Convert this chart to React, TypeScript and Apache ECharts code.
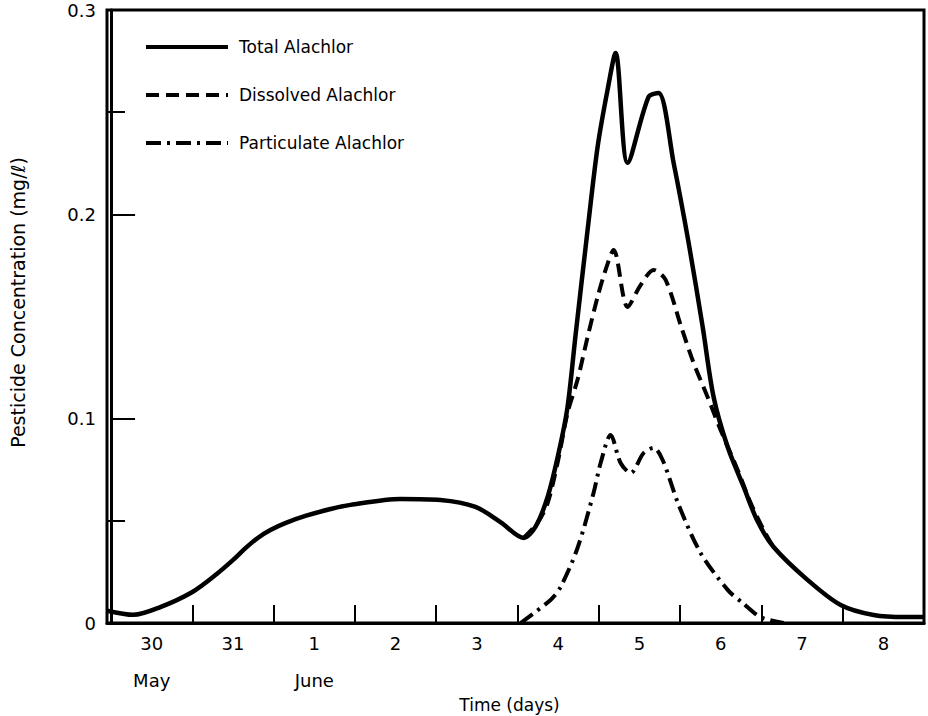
import { useEffect, useRef } from "react";
import * as echarts from "echarts";

const FONT = '"DejaVu Sans", "Liberation Sans", sans-serif';

// x is measured in days: 0 = midnight starting 30 May, tick marks at each midnight
const dayTicks = [1, 2, 3, 4, 5, 6, 7, 8, 9];
const dayLabelPositions = [0.5, 1.5, 2.5, 3.5, 4.5, 5.5, 6.5, 7.5, 8.5, 9.5];
const dayLabels = ["30", "31", "1", "2", "3", "4", "5", "6", "7", "8"];
const monthLabels = ["May", "", "June", "", "", "", "", "", "", ""];

// concentration axis (mg/ℓ)
const yLabelValues = [0, 0.1, 0.2, 0.3];
const yMajorTicks = [0.1, 0.2];
const yMinorTicks = [0.05, 0.25];

// [day, mg/ℓ]
const totalAlachlor: [number, number][] = [
  [-0.05, 0.006], [0.274, 0.004], [0.606, 0.0078], [1.0, 0.0152], [1.3, 0.024],
  [1.505, 0.031], [1.65, 0.0365], [1.8, 0.0415], [1.96, 0.0455], [2.15, 0.049],
  [2.4, 0.0525], [2.7, 0.0558], [2.945, 0.0578], [3.56, 0.0607], [4.052, 0.0602],
  [4.483, 0.0568], [4.79, 0.0494], [5.074, 0.0416], [5.22, 0.047], [5.37, 0.0617],
  [5.505, 0.0832], [5.615, 0.1057], [5.714, 0.141], [5.862, 0.1924], [5.985, 0.233],
  [6.108, 0.261], [6.206, 0.279], [6.354, 0.2252], [6.612, 0.2575], [6.735, 0.2594],
  [6.92, 0.2252], [7.105, 0.186], [7.277, 0.145], [7.412, 0.1106], [7.585, 0.0861],
  [7.782, 0.0666], [7.95, 0.05], [8.15, 0.0372], [8.57, 0.021], [8.975, 0.0088],
  [9.38, 0.0039], [9.775, 0.0029], [10.0, 0.0029],
];

const dissolvedAlachlor: [number, number][] = [
  [5.074, 0.0416], [5.246, 0.049], [5.37, 0.0587], [5.492, 0.0783], [5.615, 0.1028],
  [5.738, 0.119], [5.862, 0.14], [5.985, 0.1596], [6.083, 0.1728], [6.182, 0.1826],
  [6.354, 0.1547], [6.514, 0.1654], [6.674, 0.1728], [6.82, 0.168], [7.018, 0.1444],
  [7.166, 0.1273], [7.338, 0.1106], [7.498, 0.0945], [7.708, 0.0749], [7.868, 0.0587],
  [8.028, 0.0455], [8.138, 0.0377],
];

const particulateAlachlor: [number, number][] = [
  [5.037, 0], [5.406, 0.0113], [5.529, 0.0176], [5.738, 0.0367], [5.935, 0.0636],
  [6.022, 0.0783], [6.145, 0.092], [6.268, 0.0783], [6.391, 0.0734], [6.551, 0.0832],
  [6.674, 0.0857], [6.785, 0.0798], [6.982, 0.0578], [7.252, 0.0343], [7.585, 0.0162],
  [7.77, 0.0098], [7.99, 0.0029], [8.274, 0],
];

const INK = "#000";

export default function App() {
  const ref = useRef<HTMLDivElement>(null);

  useEffect(() => {
    if (!ref.current) return;
    const chart = echarts.init(ref.current, null, { renderer: "svg" });

    const lineSeries = (name: string, data: [number, number][], type: any, width: number) => ({
      name,
      type: "line",
      data,
      symbol: "none",
      smooth: 0.3,
      lineStyle: { color: INK, width, type, cap: "butt", join: "round" },
      itemStyle: { color: INK },
      z: 3,
    });

    chart.setOption({
      animation: false,
      backgroundColor: "#fff",
      textStyle: { fontFamily: FONT, color: INK },
      grid: {
        left: 107,
        right: 4,
        top: 10,
        bottom: 93,
        containLabel: false,
        outerBoundsMode: "none",
        show: true,
        borderColor: INK,
        borderWidth: 3,
        backgroundColor: "transparent",
      },
      legend: {
        orient: "vertical",
        left: 144,
        top: 38,
        padding: 0,
        itemWidth: 82,
        itemHeight: 18,
        itemGap: 30,
        data: ["Total Alachlor", "Dissolved Alachlor", "Particulate Alachlor"],
        itemStyle: { opacity: 0 },
        lineStyle: { width: 4, color: INK },
        textStyle: {
          fontFamily: FONT,
          fontSize: 17,
          lineHeight: 18,
          color: INK,
          padding: [0, 0, 0, 6],
        },
        selectedMode: false,
      },
      xAxis: {
        type: "value",
        min: -0.05,
        max: 10,
        name: "Time (days)",
        nameLocation: "middle",
        nameGap: 73,
        nameMoveOverlap: false,
        nameTextStyle: { fontFamily: FONT, fontSize: 17, color: INK, padding: [0, 12, 0, 0] },
        axisLine: { show: true, lineStyle: { color: INK, width: 3 } },
        axisTick: {
          show: true,
          inside: true,
          length: 18,
          customValues: dayTicks,
          lineStyle: { color: INK, width: 2 },
        },
        axisLabel: {
          customValues: dayLabelPositions,
          margin: 2,
          fontFamily: FONT,
          fontSize: 18,
          color: INK,
          lineHeight: 37,
          formatter: (v: number) => {
            const i = Math.round(v - 0.5);
            const m = monthLabels[i];
            return m ? `${dayLabels[i]}\n${m}` : dayLabels[i];
          },
        },
        splitLine: { show: false },
      },
      yAxis: [
        {
          type: "value",
          min: 0,
          max: 0.3,
          position: "left",
          name: "Pesticide Concentration (mg/ℓ)",
          nameLocation: "middle",
          nameRotate: 90,
          nameGap: 80,
          nameMoveOverlap: false,
          nameTextStyle: { fontFamily: FONT, fontSize: 19, color: INK, padding: [0, 0, 0, 28] },
          axisLine: { show: true, lineStyle: { color: INK, width: 3 } },
          axisTick: {
            show: true,
            inside: true,
            length: 24,
            customValues: yMajorTicks,
            lineStyle: { color: INK, width: 2 },
          },
          axisLabel: {
            customValues: yLabelValues,
            margin: 11,
            fontFamily: FONT,
            fontSize: 18,
            color: INK,
            formatter: (v: number) => (v === 0 ? "0" : v.toFixed(1)),
          },
          splitLine: { show: false },
        },
        {
          type: "value",
          min: 0,
          max: 0.3,
          position: "left",
          axisLine: { show: false },
          axisTick: {
            show: true,
            inside: true,
            length: 18,
            customValues: yMinorTicks,
            lineStyle: { color: INK, width: 2 },
          },
          axisLabel: { show: false },
          splitLine: { show: false },
        },
      ],
      series: [
        lineSeries("Total Alachlor", totalAlachlor, "solid", 4.5),
        lineSeries("Dissolved Alachlor", dissolvedAlachlor, [13, 7], 4),
        lineSeries("Particulate Alachlor", particulateAlachlor, [15, 6, 3, 6], 4),
      ],
    });

    return () => chart.dispose();
  }, []);

  return (
    <div
      ref={ref}
      style={{ position: "fixed", left: 0, top: 0, width: 928, height: 716, background: "#fff" }}
    />
  );
}
